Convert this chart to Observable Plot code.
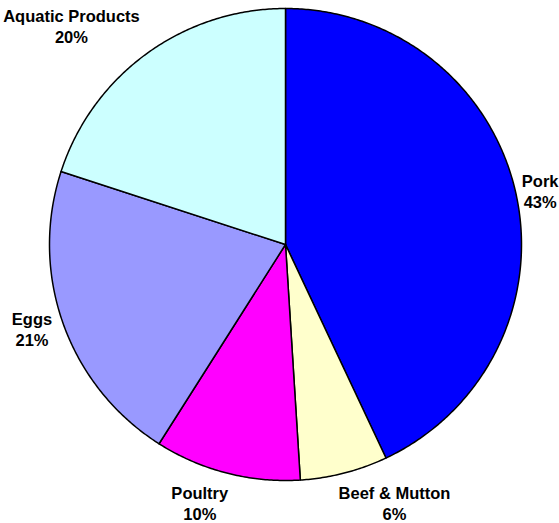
<!DOCTYPE html>
<html>
<head>
<meta charset="utf-8">
<script src="https://cdn.jsdelivr.net/npm/d3@7"></script>
<script src="https://cdn.jsdelivr.net/npm/@observablehq/plot@0.6"></script>
<style>
  html, body { margin: 0; padding: 0; background: #fff; }
  #chart svg { display: block; }
</style>
</head>
<body>
<div id="chart"></div>
<script>
// Meat consumption shares, clockwise from 12 o'clock
const categories = ["Pork", "Beef & Mutton", "Poultry", "Eggs", "Aquatic Products"];
const shares = [43, 6, 10, 21, 20];
const colors = ["#0000FF", "#FFFFCC", "#FF00FF", "#9999FF", "#CCFFFF"];

// Layout
const W = 559, H = 523;
const cx = 285, cy = 244, R = 236;
const fontSize = 16.5, lineGap = 21;
const font = `bold ${fontSize}px "Liberation Sans", Arial, sans-serif`;

// Slice angles (radians, clockwise from top)
const total = d3.sum(shares);
let acc = 0;
const slices = categories.map((name, i) => {
  const a0 = (acc / total) * 2 * Math.PI;
  acc += shares[i];
  const a1 = (acc / total) * 2 * Math.PI;
  return {name, value: shares[i], a0, a1};
});

// Polygon outline of each wedge in unit-circle coordinates
const wedgePoints = slices.flatMap(s => {
  const n = Math.max(2, Math.ceil((s.a1 - s.a0) / (Math.PI / 360)));
  const pts = [{name: s.name, x: 0, y: 0}];
  for (let k = 0; k <= n; ++k) {
    const a = s.a0 + (s.a1 - s.a0) * k / n;
    pts.push({name: s.name, x: Math.sin(a), y: Math.cos(a)});
  }
  pts.push({name: s.name, x: 0, y: 0});
  return pts;
});

// Label placement: box touches a circle just outside the pie along the
// mid-angle, kept inside the drawing area
const ctx = document.createElement("canvas").getContext("2d");
ctx.font = font;
const clamp = (v, lo = -1, hi = 1) => Math.max(lo, Math.min(hi, v));
const labels = slices.map(s => {
  const a = (s.a0 + s.a1) / 2;
  const text = `${s.name}\n${s.value}%`;
  const w = d3.max(text.split("\n"), t => ctx.measureText(t).width);
  const h = 2 * lineGap - 6;
  const r = R + 12;
  const sin = Math.sin(a), cos = Math.cos(a);
  const sx = clamp(sin * 3.4);
  const sy = Math.abs(cos) > 0.5 ? Math.sign(cos) : 0;
  let px = cx + r * sin + (w / 2) * sx;
  px = clamp(px, w / 2 + 2, W - w / 2 - 1);
  const py = r * cos + (h / 2) * sy;
  return {text, x: (px - cx) / R, y: py / R};
});

const chart = Plot.plot({
  width: W,
  height: H,
  margin: 0,
  x: {domain: [-1, 1], range: [cx - R, cx + R], axis: null},
  y: {domain: [-1, 1], range: [cy + R, cy - R], axis: null},
  color: {domain: categories, range: colors},
  style: {background: "#fff", overflow: "visible"},
  marks: [
    Plot.line(wedgePoints, {
      x: "x", y: "y", z: "name", fill: "name",
      stroke: "#000", strokeWidth: 1.5, strokeLinejoin: "round"
    }),
    Plot.text(labels, {
      x: "x", y: "y", text: "text",
      fontSize, fontWeight: "bold",
      fontFamily: '"Liberation Sans", Arial, sans-serif',
      lineHeight: lineGap / fontSize,
      textAnchor: "middle", lineAnchor: "middle",
      fill: "#000"
    })
  ]
});

document.getElementById("chart").appendChild(chart);
</script>
</body>
</html>
